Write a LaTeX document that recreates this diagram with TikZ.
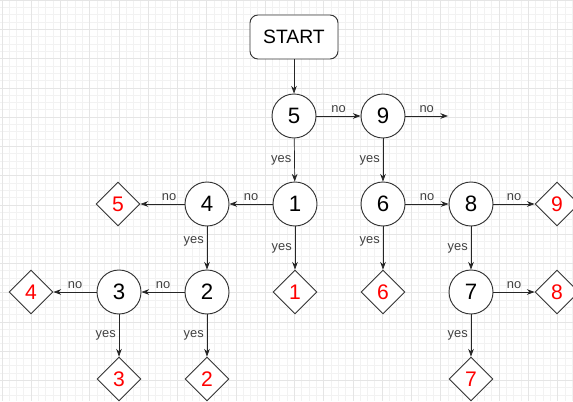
\documentclass[tikz,border=0pt]{standalone}
\usepackage{fontspec}
\setmainfont{Liberation Sans}
\usetikzlibrary{shapes.geometric,arrows.meta}

\begin{document}
\begin{tikzpicture}[x=0.03cm,y=-0.03cm,>={Stealth[length=2.3mm,width=1.7mm]},
  state/.style={circle,draw=black!80,thick,minimum size=1.32cm,inner sep=0pt,fill=white,font=\fontsize{19}{19}\selectfont},
  leaf/.style={diamond,draw=black!80,thick,minimum size=1.32cm,inner sep=0pt,fill=white,text=red,font=\fontsize{18}{18}\selectfont},
  lbl/.style={font=\fontsize{11}{11}\selectfont,text=black!75,inner sep=2.5pt},
  edge/.style={->,black!85,line width=0.6pt}]
\clip (0,0) rectangle (573,401);
\useasboundingbox (0,0) rectangle (573,401);
% grid
\foreach \k in {0,...,78} \draw[black!5] ({1.75+7.3125*\k},0) -- ({1.75+7.3125*\k},401);
\foreach \k in {0,...,55} \draw[black!5] (0,{7.3125*\k}) -- (573,{7.3125*\k});
\foreach \k in {0,...,19} \draw[black!10] ({1.75+29.25*\k},0) -- ({1.75+29.25*\k},401);
\foreach \k in {0,...,13} \draw[black!10] (0,{29.25*\k}) -- (573,{29.25*\k});

\node[draw=black!80,thick,rounded corners=0.24cm,minimum width=2.64cm,minimum height=1.32cm,
  fill=white,font=\fontsize{16.5}{16.5}\selectfont] (start) at (294,37) {START};

\node[state] (s5) at (294,116) {5};
\node[state] (s9) at (383,116) {9};
\coordinate (out) at (448,116);

\node[state] (s4) at (207,204) {4};
\node[state] (s1) at (295,204) {1};
\node[state] (s6) at (383,204) {6};
\node[state] (s8) at (471,204) {8};
\node[leaf]  (d5) at (118,204) {5};
\node[leaf]  (d9) at (557,204) {9};

\node[state] (s3) at (119,292) {3};
\node[state] (s2) at (207,292) {2};
\node[state] (s7) at (471,292) {7};
\node[leaf]  (d4) at (31,292) {4};
\node[leaf]  (d1) at (295,292) {1};
\node[leaf]  (d6) at (383,292) {6};
\node[leaf]  (d8) at (557,292) {8};

\node[leaf]  (d3) at (119,379) {3};
\node[leaf]  (d2) at (207,379) {2};
\node[leaf]  (d7) at (471,379) {7};

\draw[edge] (start) -- (s5);
\draw[edge] (s5) -- node[lbl,above] {no} (s9);
\draw[edge] (s9) -- node[lbl,above] {no} (out);
\draw[edge] (s5) -- node[lbl,left] {yes} (s1);
\draw[edge] (s9) -- node[lbl,left] {yes} (s6);

\draw[edge] (s1) -- node[lbl,above] {no} (s4);
\draw[edge] (s1) -- node[lbl,left] {yes} (d1);
\draw[edge] (s4) -- node[lbl,above,pos=0.35] {no} (d5);
\draw[edge] (s4) -- node[lbl,left,pos=0.35] {yes} (s2);
\draw[edge] (s2) -- node[lbl,above] {no} (s3);
\draw[edge] (s2) -- node[lbl,left] {yes} (d2);
\draw[edge] (s3) -- node[lbl,above] {no} (d4);
\draw[edge] (s3) -- node[lbl,left] {yes} (d3);

\draw[edge] (s6) -- node[lbl,above] {no} (s8);
\draw[edge] (s6) -- node[lbl,left,pos=0.35] {yes} (d6);
\draw[edge] (s8) -- node[lbl,above] {no} (d9);
\draw[edge] (s8) -- node[lbl,left] {yes} (s7);
\draw[edge] (s7) -- node[lbl,above] {no} (d8);
\draw[edge] (s7) -- node[lbl,left] {yes} (d7);
\end{tikzpicture}
\end{document}
